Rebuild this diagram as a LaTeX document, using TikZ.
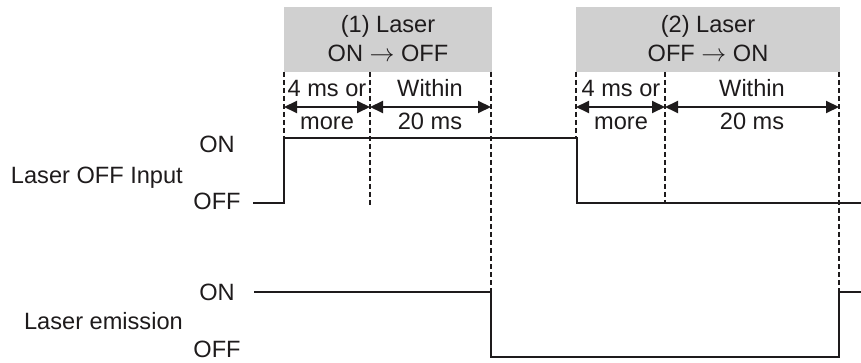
\documentclass[tikz,border=0pt]{standalone}
\usepackage{fontspec}
\setmainfont{Liberation Sans}
\usetikzlibrary{arrows.meta}
\definecolor{ink}{RGB}{30,27,28}
\definecolor{boxgray}{RGB}{208,208,208}
\begin{document}
\begin{tikzpicture}[x=1pt,y=-1pt,
  lbl/.style={font=\fontsize{23.6}{28}\selectfont, text=ink, inner sep=0pt, anchor=base},
  lble/.style={lbl, anchor=base east},
  sig/.style={draw=ink, line width=2.4pt},
  guide/.style={draw=ink, line width=1.6pt, dash pattern=on 5pt off 3pt},
  dim/.style={draw=ink, line width=2pt, {Triangle[length=13pt,width=12pt]}-{Triangle[length=13pt,width=12pt]}},
  hdr/.style={fill=boxgray, draw=none, inner sep=0pt, anchor=north west}]
\useasboundingbox (0,0) rectangle (861,363);

% header boxes
\node[hdr, minimum width=208pt, minimum height=65pt] (h1) at (284,7) {};
\node[hdr, minimum width=264pt, minimum height=65pt] (h2) at (576,7) {};
\node[lbl] (h1a) at (388,33) {(1) Laser};
\node[lbl] (h1b) at (388,62) {ON $\rightarrow$ OFF};
\node[lbl] (h2a) at (708,33) {(2) Laser};
\node[lbl] (h2b) at (708,62) {OFF $\rightarrow$ ON};

% guide coordinates
\coordinate (g1t) at (284,72); \coordinate (g1b) at (284,138);
\coordinate (g2t) at (370,72); \coordinate (g2b) at (370,205);
\coordinate (g3t) at (491,72); \coordinate (g3b) at (491,292);
\coordinate (g4t) at (576,72); \coordinate (g4b) at (576,138);
\coordinate (g5t) at (665,72); \coordinate (g5b) at (665,203);
\coordinate (g6t) at (839,72); \coordinate (g6b) at (839,292);
\foreach \i in {1,...,6} \draw[guide] (g\i t) -- (g\i b);

% dimension arrows
\coordinate (a1) at (284,107); \coordinate (a2) at (370,107);
\coordinate (a3) at (491,107); \coordinate (a4) at (576,107);
\coordinate (a5) at (665,107); \coordinate (a6) at (839,107);
\draw[dim] (a1) -- (a2);
\draw[dim] (a2) -- (a3);
\draw[dim] (a4) -- (a5);
\draw[dim] (a5) -- (a6);

\node[lbl] (t1a) at (327,97) {4 ms or};
\node[lbl] (t1b) at (327,130) {more};
\node[lbl] (t2a) at (430,97) {Within};
\node[lbl] (t2b) at (430,130) {20 ms};
\node[lbl] (t3a) at (621,97) {4 ms or};
\node[lbl] (t3b) at (621,130) {more};
\node[lbl] (t4a) at (752,97) {Within};
\node[lbl] (t4b) at (752,130) {20 ms};

% left labels
\node[lble] (in) at (183,184) {Laser OFF Input};
\node[lbl] (inon) at (217,153) {ON};
\node[lbl] (inoff) at (217,210) {OFF};
\node[lble] (em) at (183,329) {Laser emission};
\node[lbl] (emon) at (217,300) {ON};
\node[lbl] (emoff) at (217,357) {OFF};

% signals
\coordinate (s1) at (253,203); \coordinate (s2) at (284,203);
\coordinate (s3) at (284,138); \coordinate (s4) at (577,138);
\coordinate (s5) at (577,203); \coordinate (s6) at (861,203);
\draw[sig] (s1) -- (s2) -- (s3) -- (s4) -- (s5) -- (s6);

\coordinate (e1) at (254,292); \coordinate (e2) at (491,292);
\coordinate (e3) at (491,357); \coordinate (e4) at (839,357);
\coordinate (e5) at (839,292); \coordinate (e6) at (861,292);
\draw[sig] (e1) -- (e2) -- (e3) -- (e4) -- (e5) -- (e6);
\end{tikzpicture}
\end{document}
